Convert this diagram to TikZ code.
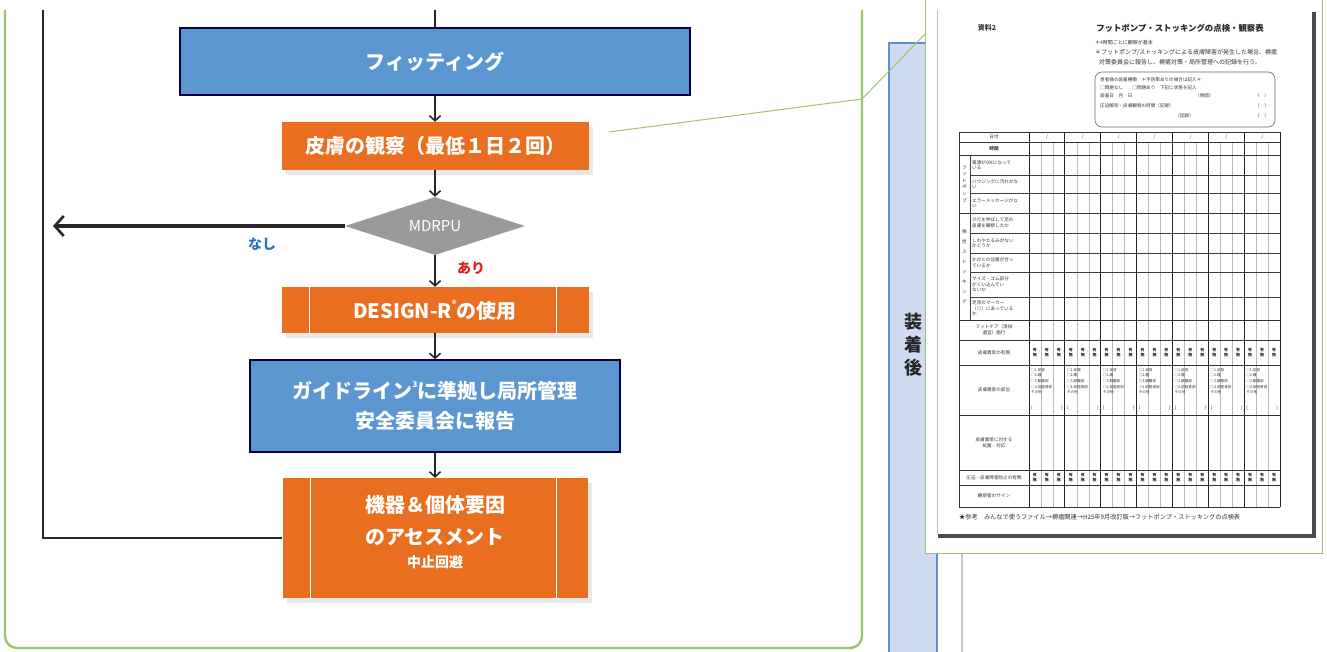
\documentclass[tikz,border=0pt]{standalone}
\usepackage{fontspec}
\setmainfont{Noto Sans CJK JP}
\usetikzlibrary{arrows.meta,shapes.geometric,shadows,calc}
\definecolor{boxblue}{HTML}{5B96D0}
\definecolor{boxorange}{HTML}{E96E1F}
\definecolor{framegreen}{HTML}{9CC66B}
\definecolor{barblue}{HTML}{CFDCF0}
\definecolor{barblueline}{HTML}{5B8FD5}
\definecolor{diagray}{HTML}{9A9A9A}
\definecolor{nashiblue}{HTML}{2E74C0}
\definecolor{arired}{HTML}{E02020}
\begin{document}
\begin{tikzpicture}[x=1pt,y=-1pt,
  every node/.style={inner sep=0pt},
  bluebox/.style={rectangle, draw=black!75!blue, line width=1.4pt, fill=boxblue, text=white, align=center, font=\bfseries\fontsize{20}{30}\selectfont},
  orangebox/.style={rectangle, fill=boxorange, text=white, align=center, font=\bfseries\fontsize{20}{30}\selectfont, drop shadow={shadow xshift=4pt, shadow yshift=-5pt, opacity=0.18}},
  flow/.style={line width=1.6pt, draw=black!85, -{Straight Barb[length=5pt,width=11pt,line width=1.6pt]}},
  bigflow/.style={line width=3.6pt, draw=black!85, -{Straight Barb[length=9pt,width=20pt,line width=2.6pt]}},
  plainline/.style={line width=1.6pt, draw=black!85},
  bar/.style={draw=white, line width=1.5pt},
  doctxt/.style={text=black!80, font=\fontsize{4.6}{5.6}\selectfont, align=left},
  docctr/.style={text=black!80, font=\fontsize{4.6}{5.6}\selectfont, align=center},
  tline/.style={draw=black!80, line width=0.7pt},
  tthin/.style={draw=black!75, line width=0.5pt},
  tsub/.style={draw=gray!55, line width=0.4pt}
]
\useasboundingbox (0,0) rectangle (1327,652);
\fill[white] (0,0) rectangle (1327,652);

% ---------- left frame ----------
\draw[framegreen, line width=2.4pt, rounded corners=12pt] (5,10) -- (5,648) -- (862,648) -- (862,10);

% ---------- flow nodes ----------
\node[bluebox, minimum width=510pt, minimum height=67pt] (fit) at (435,61.5) {フィッティング};
\node[orangebox, minimum width=307pt, minimum height=48pt] (skin) at (435,146) {皮膚の観察（最低１日２回）};
\node[diamond, fill=diagray, minimum width=180pt, minimum height=58pt, aspect=3.1, text=white, font=\fontsize{15}{15}\selectfont] (mdrpu) at (435,226) {MDRPU};
\node[orangebox, minimum width=307pt, minimum height=46pt] (design) at (435,310) {DESIGN-R\raisebox{0.55em}{\fontsize{9}{9}\selectfont ®}の使用};
\draw[bar] ([xshift=28pt]design.north west) -- ([xshift=28pt]design.south west);
\draw[bar] ([xshift=-32pt]design.north east) -- ([xshift=-32pt]design.south east);
\node[bluebox, minimum width=370pt, minimum height=92pt] (guide) at (435,406) {ガイドライン\raisebox{0.55em}{\fontsize{8}{8}\selectfont 3}に準拠し局所管理\\安全委員会に報告};
\node[orangebox, minimum width=305pt, minimum height=120pt] (assess) at (435,538) {};
\draw[bar] ([xshift=28pt]assess.north west) -- ([xshift=28pt]assess.south west);
\draw[bar] ([xshift=-31pt]assess.north east) -- ([xshift=-31pt]assess.south east);
\node[text=white, align=center, font=\bfseries\fontsize{20}{32}\selectfont] (assesstxt) at (435,521) {機器＆個体要因\\のアセスメント};
\node[text=white, font=\bfseries\fontsize{14}{14}\selectfont] (assesssub) at (435,562) {中止回避};

% ---------- connectors ----------
\coordinate (fittop) at (435,10);
\draw[plainline] (fittop) -- (fit.north);
\draw[flow] (fit.south) -- (skin.north);
\draw[flow] (skin.south) -- (mdrpu.north);
\draw[flow] (mdrpu.south) -- (design.north);
\draw[flow] (design.south) -- (guide.north);
\draw[flow] (guide.south) -- (assess.north);
\coordinate (nashiend) at (53,226);
\draw[bigflow] (mdrpu.west) -- (nashiend);
\coordinate (looptop) at (43,10);
\draw[line width=2.4pt, black!85] (looptop) |- (assess.west);
\node[text=nashiblue, font=\bfseries\fontsize{14}{14}\selectfont] (nashi) at (262,244) {なし};
\node[text=arired, font=\bfseries\fontsize{14}{14}\selectfont] (ari) at (471,268) {あり};

% ---------- right side ----------
\draw[gray!45, line width=1.5pt] (962,10) -- (962,652);
\node[draw=barblueline, fill=barblue, line width=2pt, minimum width=48pt, minimum height=620pt] (sidebar) at (913,353) {};
\node[align=center, font=\bfseries\fontsize{18}{23}\selectfont, text=black!85] (sidetxt) at (913,345) {装\\着\\後};

% popup window
\node[draw=framegreen, line width=1pt, fill=white, minimum width=397pt, minimum height=600pt, anchor=south west] (popup) at (925,554) {};
\coordinate (popin) at (926,33);
\draw[framegreen, line width=1pt] ([shift={(20,-14)}]skin.east) -- (862,99) -- (popin);

% document page
\fill[black!70] (938,12) rectangle (1316,538);
\fill[white] (937,10) rectangle (1312,534);
\draw[gray!50, line width=0.8pt] (937,10) -- (937,534);

% header
\node[text=black!80, font=\bfseries\fontsize{7}{7}\selectfont] (docno) at (987,28) {資料2};
\node[text=black!85, font=\bfseries\fontsize{8.4}{8.4}\selectfont] (doctitle) at (1180,28) {フットポンプ・ストッキングの点検・観察表};
\node[doctxt, anchor=west, font=\fontsize{5}{5}\selectfont] (b1) at (1095,43) {＊4時間ごとに観察が基本};
\node[doctxt, anchor=west, font=\fontsize{6}{6}\selectfont] (b2) at (1095,52) {＊フットポンプ/ストッキングによる皮膚障害が発生した場合、褥瘡};
\node[doctxt, anchor=west, font=\fontsize{6}{6}\selectfont] (b3) at (1099,62) {対策委員会に報告し、褥瘡対策・局所管理への記録を行う。};
\draw[black!60, line width=0.6pt, rounded corners=7pt] (1095,72) rectangle (1275,127);
\node[doctxt, anchor=west] (c1) at (1100,80) {患者様の装着種類　＊予防策ありの場合は記入＊};
\node[doctxt, anchor=west] (c2) at (1100,88) {□問題なし　　□問題あり　下記に状態を記入};
\node[doctxt, anchor=west] (c3) at (1100,96) {装着日　月　日};
\node[doctxt, anchor=west] (c3b) at (1195,96) {（時間）};
\node[doctxt, anchor=west] (c4) at (1100,106) {圧迫解除・皮膚観察の時間（記録）};
\node[doctxt, anchor=west] (c5) at (1175,116) {（記録）};
\node[doctxt] (p1) at (1262,96) {（　）};
\node[doctxt] (p2) at (1262,106) {（　）};
\node[doctxt] (p3) at (1262,116) {（　）};

% table grid
\foreach \k in {0,...,6}{
  \foreach \s in {1,2}{
    \draw[tsub] ({1029+\k*35.857+\s*11.95},142) -- ({1029+\k*35.857+\s*11.95},507);
  }
}
\foreach \yy in {132,142,155,213,320,340,365,415,470,485,507}{
  \draw[tline] (959,\yy) -- (1280,\yy);
}
\foreach \yy in {175,193,233,253,272,297}{
  \draw[tthin] (970,\yy) -- (1280,\yy);
}
\draw[tthin] (970,155) -- (970,320);
\draw[tline] (959,132) -- (959,507);
\foreach \k in {0,...,7}{
  \draw[draw=black!85, line width=0.9pt] ({1029+\k*35.857},132) -- ({1029+\k*35.857},507);
}
\foreach \k in {0,...,6}{
  \node[docctr] (d\k) at ({1047+\k*35.857},137) {/};
  \node[doctxt, anchor=north west, font=\fontsize{3.6}{5.6}\selectfont] (site\k) at ({1031+\k*35.857},368) {□1.足背\\□2.踵\\□3.腓腹部\\□4.前脛骨部\\その他};
  \node[docctr] (sl\k) at ({1032+\k*35.857},408) {(};
  \node[docctr] (sr\k) at ({1062+\k*35.857},408) {)};
  \foreach \s in {0,1,2}{
    \node[docctr, font=\bfseries\fontsize{4}{5.5}\selectfont] (u\k\s) at ({1029+\k*35.857+(\s+0.5)*11.95},352.5) {有\\無};
    \node[docctr, font=\bfseries\fontsize{4}{5}\selectfont] (v\k\s) at ({1029+\k*35.857+(\s+0.5)*11.95},477.5) {有\\無};
  }
}
% table labels
\node[docctr] (h1) at (994,137) {日付};
\node[docctr, font=\bfseries\fontsize{4.6}{5.6}\selectfont] (h2) at (994,148.5) {時間};
\node[docctr, font=\fontsize{4.6}{6.6}\selectfont] (g1) at (964.5,184) {フ\\ッ\\ト\\ポ\\ン\\プ};
\node[docctr, font=\fontsize{4.6}{10}\selectfont] (g2) at (964.5,266.5) {弾\\性\\ス\\ト\\ッ\\キ\\ン\\グ};
\node[doctxt, anchor=west] (r1) at (972,165) {電源がONになって\\いる};
\node[doctxt, anchor=west] (r2) at (972,184) {ハウジングに汚れがな\\い};
\node[doctxt, anchor=west] (r3) at (972,203) {エラーメッセージがな\\い};
\node[doctxt, anchor=west] (r4) at (972,223) {ひだを伸ばして足の\\皮膚を観察したか};
\node[doctxt, anchor=west] (r5) at (972,243) {しわやたるみがない\\かどうか};
\node[doctxt, anchor=west] (r6) at (972,262.5) {かかとの位置が合っ\\ているか};
\node[doctxt, anchor=west] (r7) at (972,284.5) {サイズ・ゴム部分\\がくい込んでい\\ないか};
\node[doctxt, anchor=west] (r8) at (972,308.5) {足背のマーカー\\（◎）にあっている\\か};
\node[docctr] (r9) at (994,330) {フットケア（清拭\\適宜）施行};
\node[docctr] (r10) at (994,352.5) {皮膚異常の有無};
\node[docctr] (r11) at (994,390) {皮膚異常の部位};
\node[docctr] (r12) at (994,442.5) {皮膚異常に対する\\処置・対応};
\node[docctr] (r13) at (994,477.5) {圧迫・皮膚障害防止の有無};
\node[docctr] (r14) at (994,496) {観察者のサイン};
\node[doctxt, anchor=west, font=\fontsize{6.2}{6.2}\selectfont] (foot) at (959,517) {★参考　みんなで使うファイル→褥瘡関連→H25年9月改訂版→フットポンプ・ストッキングの点検表};
\end{tikzpicture}
\end{document}
